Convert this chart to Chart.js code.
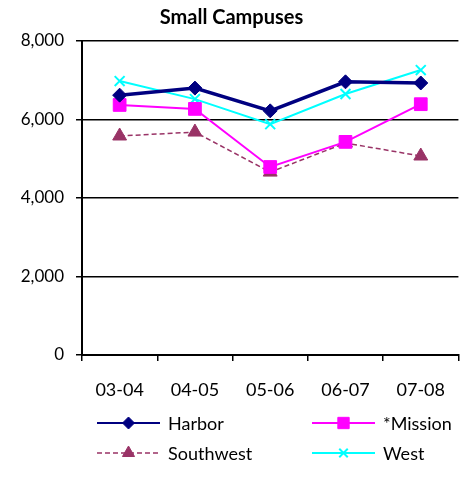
<!DOCTYPE html>
<html><head><meta charset="utf-8">
<script src="https://cdn.jsdelivr.net/npm/chart.js@4/dist/chart.umd.min.js"></script>
<style>html,body{margin:0;padding:0;background:#fff}#wrap{width:463px;height:481px}</style>
</head><body><div id="wrap"><canvas id="c"></canvas></div>
<script>
const categories = ["03-04","04-05","05-06","06-07","07-08"];
const harbor = [6620, 6800, 6220, 6960, 6930];
const mission = [6370, 6270, 4790, 5430, 6390];
const southwest = [5580, 5680, 4660, 5400, 5070];
const west = [6980, 6520, 5880, 6650, 7260];
const yTicks = [0, 2000, 4000, 6000, 8000];

const FONT = "Lato, 'Open Sans', sans-serif";

const legendPlugin = {
  id: 'customLegend',
  afterDraw(chart) {
    const ctx = chart.ctx;
    const pos = [[97, 423], [312, 423], [97, 453], [312, 453]];
    chart.data.datasets.forEach((ds, i) => {
      const [x, y] = pos[i];
      ctx.save();
      ctx.strokeStyle = ds.borderColor;
      ctx.lineWidth = Math.min(ds.borderWidth, 2);
      ctx.setLineDash(ds.borderDash || []);
      ctx.beginPath(); ctx.moveTo(x, y); ctx.lineTo(x + 63, y); ctx.stroke();
      ctx.setLineDash([]);
      ctx.fillStyle = ds.pointBackgroundColor;
      ctx.strokeStyle = ds.borderColor;
      ctx.lineWidth = ds.pointBorderWidth || 1;
      Chart.helpers.drawPoint(ctx, {pointStyle: ds.pointStyle, radius: ds.pointRadius - 1, borderWidth: ds.pointBorderWidth || 1, rotation: 0}, x + 31.5, y);
      ctx.fillStyle = '#000';
      ctx.font = "18px " + FONT;
      ctx.textBaseline = 'middle';
      ctx.textAlign = 'left';
      ctx.fillText(ds.label, x + 71, y + 1);
      ctx.restore();
    });
  }
};

new Chart(document.getElementById('c'), {
  type: 'line',
  data: {
    labels: categories,
    datasets: [
      {label: 'Harbor', data: harbor, borderColor: '#000080', backgroundColor: '#000080', pointBackgroundColor: '#000080', borderWidth: 3.5, pointStyle: 'rectRot', pointRadius: 7, pointBorderWidth: 1},
      {label: '*Mission', data: mission, borderColor: '#FF00FF', backgroundColor: '#FF00FF', pointBackgroundColor: '#FF00FF', borderWidth: 2, pointStyle: 'rect', pointRadius: 9, pointBorderWidth: 1},
      {label: 'Southwest', data: southwest, borderColor: '#993366', backgroundColor: '#993366', pointBackgroundColor: '#993366', borderWidth: 1.5, borderDash: [5, 3], pointStyle: 'triangle', pointRadius: 8, pointBorderWidth: 1},
      {label: 'West', data: west, borderColor: '#00FFFF', backgroundColor: '#00FFFF', pointBackgroundColor: '#00FFFF', borderWidth: 2, pointStyle: 'crossRot', pointRadius: 7, pointBorderWidth: 2}
    ]
  },
  options: {
    responsive: true, maintainAspectRatio: false, animation: false,
    layout: {autoPadding: false, padding: {left: 0, right: 0, top: 0, bottom: 82}},
    plugins: {
      legend: {display: false},
      tooltip: {enabled: false},
      title: {display: true, text: 'Small Campuses', color: '#000', font: {family: FONT, size: 20, weight: 'bold'}, padding: {top: 6, bottom: 11}}
    },
    scales: {
      x: {
        offset: true,
        grid: {offset: true, drawOnChartArea: false, drawTicks: true, tickLength: 6, color: '#000', lineWidth: 1.5},
        border: {color: '#000', width: 2},
        ticks: {color: '#000', font: {family: FONT, size: 18}, padding: 18, maxRotation: 0},
        afterFit(s) { s.height = 44; }
      },
      y: {
        min: 0, max: 8000,
        afterBuildTicks(s) { s.ticks = yTicks.map(v => ({value: v})); },
        grid: {color: '#000', lineWidth: 1.5, tickLength: 6},
        border: {color: '#000', width: 2},
        ticks: {color: '#000', font: {family: FONT, size: 17}, padding: 12,
          callback: v => v.toLocaleString('en-US')},
        afterFit(s) { s.width = 82; }
      }
    }
  },
  plugins: [legendPlugin]
});
</script></body></html>
